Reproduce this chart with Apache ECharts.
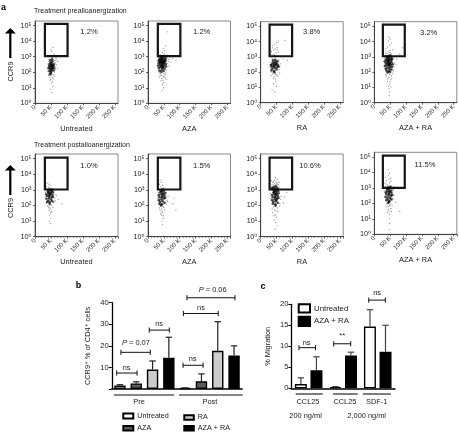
<!DOCTYPE html>
<html><head><meta charset="utf-8">
<style>html,body{margin:0;padding:0;background:#fff}#c{width:459px;height:432px}</style>
<script src="https://cdn.jsdelivr.net/npm/echarts@6/dist/echarts.min.js"></script>
</head><body><div id="c"></div>
<script>
// ---------- panel a: flow cytometry events [FSC in K, CCR9]
const core1=[[50,90],[45,120],[58,130],[53,180],[48,200],[55,220],[51,240],[44,260],[54,280],[50,300],[59,320],[46,340],[52,360],[49,420],[54,170],[47,160],[57,260],[52,130],[50,110],[55,480],[43,190],[60,190],[48,580],[53,650],[47,75]];
const halo1=[[44,90],[58,70],[50,60],[54,45],[47,30],[51,20],[56,12],[49,8],[53,5],[64,150],[39,180],[41,350],[64,400],[66,600],[58,700],[44,650],[52,800],[55,900],[48,1000],[60,1500],[52,2200],[56,4000],[50,3000],[66,800],[72,500],[40,120],[45,75],[61,100],[63,250],[53,70],[49,35],[55,25],[42,60],[60,55],[46,48],[57,38],[44,500],[61,560],[68,300],[70,180]];
const core2=[[36,130],[44,150],[52,170],[34,190],[40,210],[48,220],[56,240],[32,260],[38,280],[44,300],[50,320],[56,340],[34,370],[40,400],[46,430],[52,470],[34,500],[40,540],[46,580],[52,620],[56,660],[36,700],[42,750],[48,800],[54,860],[40,900],[44,340],[47,500],[42,240],[50,400],[44,680],[38,440],[46,190],[41,110],[49,120],[45,1000],[37,600],[54,520],[43,460],[48,260]];
const halo2=[[46,100],[42,90],[50,85],[38,80],[54,70],[44,60],[48,50],[43,40],[47,30],[50,22],[45,15],[49,10],[44,7],[58,130],[60,220],[62,350],[64,500],[66,700],[30,350],[29,600],[32,900],[58,950],[48,1200],[40,1300],[52,1500],[46,1900],[52,2500],[48,3500],[55,5000],[62,40000],[70,1000],[78,800],[88,600],[60,1200],[36,1150],[56,90],[35,100],[51,55],[40,65],[54,45],[36,50],[57,35],[41,28],[47,18],[66,260],[72,450],[62,850]];
const core3=[[34,130],[42,120],[50,150],[37,170],[45,190],[52,210],[34,240],[41,260],[47,280],[54,300],[36,330],[43,360],[50,390],[38,430],[45,470],[52,510],[41,230],[47,330],[39,590],[46,640],[43,100],[32,290],[56,240]];
const halo3=[[44,85],[38,75],[50,65],[42,50],[46,35],[41,18],[50,12],[36,7],[44,5],[58,140],[60,220],[62,350],[30,200],[29,420],[56,500],[58,650],[36,800],[44,950],[50,1100],[36,1300],[42,1500],[48,1800],[55,2000],[34,2200],[40,2800],[46,3300],[52,4000],[38,5500],[44,7000],[50,9000],[55,11000],[76,12000],[62,1000],[70,700],[84,600],[47,70],[36,90],[60,90],[54,55],[33,60],[47,25],[40,40],[30,1500],[52,2900],[37,3900],[44,1250]];
const core4=[[38,130],[46,120],[54,150],[36,170],[42,190],[50,210],[56,230],[34,250],[40,270],[46,290],[52,310],[58,330],[36,360],[42,390],[48,420],[54,450],[34,490],[40,530],[46,570],[52,610],[36,660],[42,710],[48,770],[54,830],[40,900],[46,980],[47,260],[43,480],[49,360],[45,640],[38,1100],[50,1200],[44,1050],[42,100],[50,105],[56,680],[44,340],[48,160]];
const halo4=[[46,90],[50,85],[40,80],[48,70],[54,60],[38,55],[46,45],[52,32],[42,24],[48,16],[52,11],[46,8],[49,5],[47,3],[60,120],[62,220],[64,400],[30,250],[29,500],[31,850],[60,800],[64,1000],[34,1300],[46,1400],[54,1500],[36,1800],[44,2200],[50,2600],[58,3000],[36,3500],[42,4500],[48,6000],[54,8000],[44,11000],[50,15000],[46,20000],[80,1500],[70,700],[90,4000],[58,85],[36,70],[55,40],[42,36],[50,22],[44,12],[68,300],[40,1600],[50,1950]];
const core5=[[38,170],[46,160],[54,190],[42,210],[50,240],[36,270],[44,300],[52,330],[56,370],[38,410],[46,450],[54,490],[36,530],[44,580],[50,630],[56,690],[40,750],[48,820],[54,890],[44,400],[47,560],[42,960],[50,1050],[46,130],[42,680]];
const halo5=[[46,110],[40,95],[52,100],[44,80],[48,60],[52,40],[46,25],[50,15],[45,10],[48,7],[60,180],[62,300],[62,500],[32,350],[33,700],[64,200],[60,1000],[36,1100],[46,1300],[42,1500],[36,1700],[50,1900],[44,2300],[38,2700],[56,1200],[74,250],[84,130],[68,450],[58,150],[36,140],[42,70],[56,75],[49,35],[44,48],[34,500]];
const core6=[[36,130],[44,120],[52,150],[38,170],[46,190],[34,220],[42,250],[50,280],[54,310],[36,340],[44,380],[52,420],[34,460],[42,510],[48,560],[54,610],[38,670],[44,740],[50,810],[40,880],[45,340],[47,520],[43,950],[46,1050],[41,105]];
const halo6=[[46,90],[40,85],[50,75],[44,60],[38,50],[46,35],[42,25],[48,15],[44,10],[46,6],[58,120],[60,220],[60,400],[30,300],[32,650],[58,700],[34,1000],[44,1200],[50,1400],[40,1600],[46,2000],[36,2300],[42,3000],[38,4200],[66,400],[82,300],[88,50],[78,130],[62,180],[36,70],[52,55],[44,42],[40,30],[48,22],[56,1000]];
const core7=[[38,130],[46,120],[54,150],[40,170],[48,190],[36,220],[44,250],[52,280],[56,310],[38,340],[46,380],[54,420],[36,460],[44,510],[50,560],[56,610],[40,670],[48,740],[54,810],[42,880],[48,960],[46,330],[43,600],[49,490],[38,1100],[45,1200],[52,1350],[41,1500],[47,1700],[36,1350],[54,1050],[44,780],[50,230],[47,100]];
const halo7=[[46,85],[40,80],[52,70],[44,55],[48,45],[38,35],[46,25],[50,18],[43,12],[47,8],[52,5],[45,3],[60,130],[62,250],[64,400],[32,300],[31,600],[60,800],[32,1100],[42,2000],[50,1900],[58,1400],[36,2200],[44,2500],[54,2300],[38,2900],[48,3300],[58,3000],[34,3900],[44,4300],[52,5000],[46,6300],[82,700],[72,150],[74,350],[60,95],[56,2000],[50,2800],[40,3500],[48,2200],[36,60],[54,40],[42,22]];
const core8=[[38,160],[46,150],[54,180],[42,200],[50,220],[36,250],[44,280],[52,310],[56,340],[38,380],[46,420],[54,460],[36,510],[42,560],[48,610],[54,670],[40,740],[47,830],[42,930],[46,370],[49,560],[44,1050],[48,125],[43,110],[50,1180]];
const halo8=[[46,100],[40,90],[50,85],[48,70],[44,60],[52,45],[46,30],[49,20],[47,10],[48,5],[47,2],[60,200],[62,350],[32,300],[31,650],[60,800],[36,1200],[42,1400],[54,1300],[40,1700],[34,2000],[48,2100],[52,2600],[38,2900],[46,3600],[52,4300],[36,5000],[44,6700],[48,9000],[44,15000],[62,1100],[72,1000],[80,30],[68,120],[56,70],[38,60],[44,40],[42,25],[54,30]];
const coresA=[core1,core2,core3,core4,core5,core6,core7,core8];
const halosA=[halo1,halo2,halo3,halo4,halo5,halo6,halo7,halo8];
const xNamesA=['Untreated','AZA','RA','AZA + RA','Untreated','AZA','RA','AZA + RA'];
const percentsA=['1.2%','1.2%','3.8%','3.2%','1.0%','1.5%','10.6%','11.5%'];
// ---------- panel b
const bUntreated=[1.6,0.4], bUntreatedErr=[2.0,0.5];
const bAza=[2.6,3.6], bAzaErr=[3.3,7.0];
const bRa=[9.0,17.7], bRaErr=[13.0,31.2];
const bAzaRa=[14.5,15.5], bAzaRaErr=[24.0,20.0];
const bBrackets=[[0.30,1.55,7.4],[0.56,2.36,17],[2.30,3.53,27.3],[4.37,5.6,11],[4.39,6.53,35],[4.61,7.56,42.3]];
const bLabels=[[0.91,9.9],[1.48,21.2],[2.9,30.2],[4.96,13.75],[5.47,37.5],[6.19,45.7],[1.67,-6],[6.02,-6]];
const bLabelTexts=['ns','{i|P} = 0.07','ns','ns','ns','{i|P} = 0.06','Pre','Post'];
const bGroupLines=[[0.13,3.82,-2.8],[4.12,8.03,-2.8]];
// ---------- panel c
const cCategories=['CCL25','CCL25','SDF-1'];
const cUntreated=[1.0,0.3,14.7], cUntreatedErr=[2.5,0.4,18.7];
const cAzaRa=[4.3,7.8,8.7], cAzaRaErr=[7.5,8.6,15.0];
const cBrackets=[[0.22,0.70,9.67],[1.225,1.717,10.6],[2.24,2.72,21]];
const cLabels=[[0.44,10.9],[1.47,12.5],[2.48,22.6],[0.41,-6.6],[2.18,-6.6],[0.48,-3.2],[1.55,-3.2],[2.47,-3.2]];
const cLabelTexts=['ns','**','ns','200 ng/ml','2,000 ng/ml'].concat(cCategories);
const cGroupLines=[[0.125,0.906,-1.36],[1.205,1.92,-1.36],[2.07,2.88,-1.36]];

const FONT='"Liberation Sans","DejaVu Sans",sans-serif', INK='#222';
const lefts=[35,148,260.7,374.3,35,148,260.7,374.3];
const tops=[21,21,21.7,21.7,154,154,154,152.3];
const bottoms=[103.3,103.3,102.7,102.7,236.7,236.7,236.7,234.3];
const gates=[[31,1100,102,130000],[31,1100,102,130000],[28,1100,99,130000],[27,1100,96,130000],[31,1060,102,117000],[31,1060,102,117000],[28,1060,99,117000],[27,1000,96,123000]];
const pctPos=[[89,32],[201.7,32],[311.7,32],[428.7,33],[89,166],[201.7,166],[310,166],[425,165]];

const grid=[],xAxis=[],yAxis=[],series=[],graphic=[],legend=[];
function text(t,x,y,o){graphic.push(Object.assign({type:'text',x,y,silent:true,style:Object.assign({text:t,font:'7.4px '+FONT,fill:INK,align:'center',verticalAlign:'middle'},o||{})}));}

coresA.forEach((core,i)=>{
  grid.push({left:lefts[i],top:tops[i],width:i%4==0?83:82.5,height:bottoms[i]-tops[i],show:true,borderColor:'#8a8a8a',borderWidth:1,backgroundColor:'transparent'});
  xAxis.push({gridIndex:i,type:'value',min:0,max:260,interval:50,name:xNamesA[i],nameLocation:'middle',nameGap:22,
    nameTextStyle:{fontFamily:FONT,fontSize:7.4,color:INK,verticalAlign:'top'},
    axisLine:{show:true,onZero:false,lineStyle:{color:'#444',width:1}},axisTick:{show:true,length:2,lineStyle:{color:'#444',width:.8}},
    minorTick:{show:i>=4,splitNumber:5,length:1,lineStyle:{color:'#555',width:.7}},
    splitLine:{show:false},
    axisLabel:{rotate:45,fontFamily:FONT,fontSize:6.2,color:'#333',margin:3,showMaxLabel:false,formatter:v=>v===0?'0':(v%50===0?v+' K':'')}});
  yAxis.push({gridIndex:i,type:'log',logBase:10,min:1,max:200000,
    axisLine:{show:true,onZero:false,lineStyle:{color:'#444',width:1}},axisTick:{show:true,length:2,lineStyle:{color:'#444',width:.8}},
    splitLine:{show:false},
    axisLabel:{fontFamily:FONT,fontSize:7.2,color:INK,margin:3.5,showMaxLabel:false,formatter:v=>{const e=Math.log10(v);return Math.abs(e-Math.round(e))<1e-6?'10'+'⁰¹²³⁴⁵'[Math.round(e)]:'';}}});
  const g=gates[i];
  series.push({type:'scatter',xAxisIndex:i,yAxisIndex:i,data:halosA[i],symbolSize:1.3,silent:true,itemStyle:{color:'#000',opacity:.42},
    markArea:{silent:true,itemStyle:{color:'rgba(0,0,0,0)',borderColor:'#151515',borderWidth:2.2},data:[[{xAxis:g[0],yAxis:g[1]},{xAxis:g[2],yAxis:g[3]}]]}});
  series.push({type:'scatter',xAxisIndex:i,yAxisIndex:i,data:core,symbolSize:2.6,silent:true,itemStyle:{color:'#000',opacity:.72}});
  text(percentsA[i],pctPos[i][0],pctPos[i][1],{font:'7.6px '+FONT});
});

function barAxes(idx,left,top,width,height,cats,xHidden,yMax,yInt,yName,hideZero,nameGap){
  grid.push({left,top,width,height});
  xAxis.push({gridIndex:idx,type:'category',data:cats,axisLine:{lineStyle:{color:'#000',width:1.5}},axisTick:{show:false},axisLabel:{show:false}});
  xAxis.push({gridIndex:idx,type:'value',min:0,max:xHidden,show:false});
  yAxis.push({gridIndex:idx,type:'value',min:0,max:yMax,interval:yInt,name:yName,nameLocation:'middle',nameGap,nameRotate:90,
    nameTextStyle:{fontFamily:FONT,fontSize:7.4,color:INK},
    axisLine:{show:true,lineStyle:{color:'#000',width:1.3}},axisTick:{show:true,length:3,lineStyle:{color:'#000',width:1}},splitLine:{show:false},
    axisLabel:{fontFamily:FONT,fontSize:7.6,color:INK,margin:3,formatter:v=>(hideZero&&v===0)?'':v}});
}
barAxes(8,111.8,302.7,130.4,86.3,['Pre','Post'],8,40,10,'CCR9⁺ % of CD4⁺ cells',true,20);
barAxes(9,291.4,304.3,103.6,84,cCategories,3,20,5,'% Migration',false,20);

function errorSeries(xIdx,yIdx,vals,errs,offset,color){
  return {type:'custom',xAxisIndex:xIdx,yAxisIndex:yIdx,silent:true,z:3,data:vals.map((v,j)=>[j,v,errs[j]]),
    encode:{x:0,y:[1,2]},
    renderItem:(p,api)=>{
      const a=api.coord([api.value(0),api.value(1)]),b=api.coord([api.value(0),api.value(2)]),x=a[0]+offset,st={stroke:color,lineWidth:1.2};
      return {type:'group',children:[{type:'line',shape:{x1:x,y1:a[1],x2:x,y2:b[1]},style:st},{type:'line',shape:{x1:x-3.2,y1:b[1],x2:x+3.2,y2:b[1]},style:st}]};
    }};
}
function barSeries(name,data,xIdx,yIdx,color,w,gap){
  return {type:'bar',name,data,xAxisIndex:xIdx,yAxisIndex:yIdx,barWidth:w,barGap:gap,silent:true,itemStyle:{color,borderColor:'#000',borderWidth:1.4}};
}
const bSer=[['Untreated',bUntreated,bUntreatedErr,'#fff'],['AZA',bAza,bAzaErr,'#5c5c5c'],['RA',bRa,bRaErr,'#cdcdcd'],['AZA + RA',bAzaRa,bAzaRaErr,'#000']];
bSer.forEach((s,i)=>{series.push(barSeries(s[0],s[1],8,8,s[3],11.4,'43%'));series.push(errorSeries(8,8,s[1],s[2],(i-1.5)*16.3,'#222'));});
const cSer=[['Untreated',cUntreated,cUntreatedErr,'#fff'],['AZA + RA',cAzaRa,cAzaRaErr,'#000']];
cSer.forEach((s,i)=>{series.push(barSeries(s[0],s[1],10,9,s[3],12,'30%'));series.push(errorSeries(10,9,s[1],s[2],(i-.5)*15.5,'#444'));});

function lineSeries(xIdx,yIdx,rows,cap,width){
  return {type:'custom',xAxisIndex:xIdx,yAxisIndex:yIdx,silent:true,z:4,clip:false,data:rows,encode:{x:[0,1],y:2},
    renderItem:(p,api)=>{
      const a=api.coord([api.value(0),api.value(2)]),b=api.coord([api.value(1),api.value(2)]),st={stroke:'#111',lineWidth:width},ch=[{type:'line',shape:{x1:a[0],y1:a[1],x2:b[0],y2:b[1]},style:st}];
      if(cap){ch.push({type:'line',shape:{x1:a[0],y1:a[1]-cap,x2:a[0],y2:a[1]+cap},style:st},{type:'line',shape:{x1:b[0],y1:b[1]-cap,x2:b[0],y2:b[1]+cap},style:st});}
      return {type:'group',children:ch};
    }};
}
function labelSeries(xIdx,yIdx,rows,texts){
  return {type:'custom',xAxisIndex:xIdx,yAxisIndex:yIdx,silent:true,z:4,clip:false,data:rows,encode:{x:0,y:1},
    renderItem:(p,api)=>{
      const c=api.coord([api.value(0),api.value(1)]);
      return {type:'text',style:{text:texts[p.dataIndex],x:c[0],y:c[1],font:'7.4px '+FONT,fill:INK,align:'center',verticalAlign:'middle',
        rich:{i:{fontStyle:'italic',fontSize:7.4,fontFamily:FONT,fill:INK}}}};
    }};
}
series.push(lineSeries(9,8,bBrackets,2.6,1),lineSeries(9,8,bGroupLines,0,1.1),labelSeries(9,8,bLabels,bLabelTexts));
series.push(lineSeries(11,9,cBrackets,2.6,1),lineSeries(11,9,cGroupLines,0,1.1),labelSeries(11,9,cLabels,cLabelTexts));

function addLegend(name,left,top,w,h,fs){
  legend.push({data:[name],left,top,padding:0,itemWidth:w,itemHeight:h,selectedMode:false,icon:'rect',
    textStyle:{fontFamily:FONT,fontSize:fs,color:INK,padding:[0,0,0,-1]}});
}
addLegend('Untreated',122.3,412.5,10,5,7.2);
addLegend('RA',183.3,414,9.5,4.5,7.2);
addLegend('AZA',122.3,424.8,10,4.5,7.2);
addLegend('AZA + RA',183.3,424.8,9.5,4.5,7.2);
addLegend('Untreated',297.7,303.3,11.3,8.3,7.8);
addLegend('AZA + RA',297.7,315.7,11.3,9.2,7.8);

// panel letters, titles, arrows
text('a',3.5,8,{font:'bold 9px '+FONT,fill:'#000'});
text('b',78.5,286,{font:'bold 9px '+FONT,fill:'#000'});
text('c',263,286.5,{font:'bold 9px '+FONT,fill:'#000'});
text('Treatment prealloanergization',34,11.5,{align:'left',font:'7px '+FONT});
text('Treatment postalloanergization',34,145,{align:'left',font:'7px '+FONT});
[[58,71.5],[195,208]].forEach(r=>{
  const bot=r[0],tip=bot-30;
  graphic.push({type:'line',silent:true,shape:{x1:10.3,y1:tip+4,x2:10.3,y2:bot},style:{stroke:'#000',lineWidth:2.2}});
  graphic.push({type:'polygon',silent:true,shape:{points:[[10.3,tip],[15.8,tip+5.5],[4.8,tip+5.5]]},style:{fill:'#000'}});
  graphic.push({type:'text',silent:true,x:10.8,y:r[1],rotation:Math.PI/2,style:{text:'CCR9',font:'7.4px '+FONT,fill:INK,align:'center',verticalAlign:'middle'}});
});

const chart=echarts.init(document.getElementById('c'),null,{renderer:'canvas'});
chart.setOption({animation:false,backgroundColor:'#fff',textStyle:{fontFamily:FONT},grid,xAxis,yAxis,series,legend,graphic:{elements:graphic}});
</script></body></html>
